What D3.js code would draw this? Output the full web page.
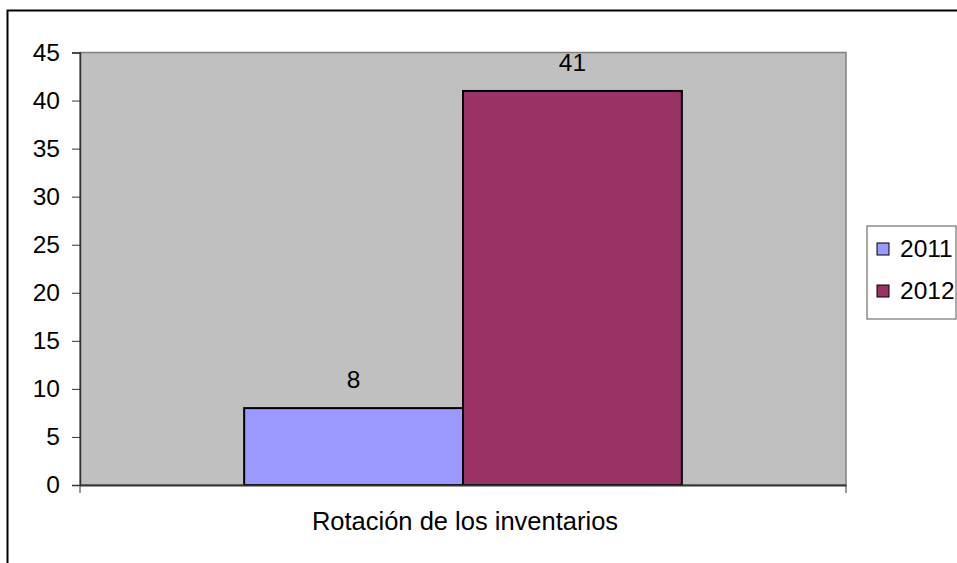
<!DOCTYPE html>
<html>
<head>
<meta charset="utf-8">
<script src="https://cdn.jsdelivr.net/npm/d3@7"></script>
<style>
  body { margin: 0; background: #fff; }
  svg { display: block; font-family: "Liberation Sans", Arial, sans-serif; }
</style>
</head>
<body>
<svg id="chart" width="957" height="563"></svg>
<script>
// data
const categories = ['Rotación de los inventarios'];
const seriesNames = ['2011', '2012'];
const seriesValues = [8, 41];
const seriesColors = ['#9999FF', '#993366'];
const yTicks = [0, 5, 10, 15, 20, 25, 30, 35, 40, 45];

const fontSize = 24.5;

const svg = d3.select('#chart');

// outer chart border (right/bottom run off the picture)
svg.append('rect')
    .attr('x', 7.5).attr('y', 10.5)
    .attr('width', 980).attr('height', 600)
    .attr('fill', 'none')
    .attr('stroke', '#000')
    .attr('stroke-width', 2);

const plot = { left: 80, top: 52.5, right: 846, bottom: 485 };

const y = d3.scaleLinear()
    .domain([0, 45])
    .range([plot.bottom, plot.top]);

const x = d3.scaleBand()
    .domain(categories)
    .range([plot.left, plot.right]);

// Excel gap width 150% -> bars take 2/3.5 of the category
const groupWidth = x.bandwidth() * 2 / 3.5;
const xs = d3.scaleBand()
    .domain(seriesNames)
    .range([0, groupWidth]);

// plot area
svg.append('rect')
    .attr('x', plot.left).attr('y', plot.top)
    .attr('width', plot.right - plot.left)
    .attr('height', plot.bottom - plot.top)
    .attr('fill', '#C0C0C0')
    .attr('stroke', '#808080')
    .attr('stroke-width', 1.5);

// bars
const g = svg.append('g')
    .attr('transform', `translate(${x(categories[0]) + (x.bandwidth() - groupWidth) / 2},0)`);

g.selectAll('rect')
    .data(seriesValues)
    .join('rect')
    .attr('x', (d, i) => xs(seriesNames[i]))
    .attr('y', (d) => y(d))
    .attr('width', xs.bandwidth())
    .attr('height', (d) => y(0) - y(d))
    .attr('fill', (d, i) => seriesColors[i])
    .attr('stroke', '#000')
    .attr('stroke-width', 2);

g.selectAll('text.val')
    .data(seriesValues)
    .join('text')
    .attr('class', 'val')
    .attr('x', (d, i) => xs(seriesNames[i]) + xs.bandwidth() / 2)
    .attr('y', (d) => y(d) - 20)
    .attr('text-anchor', 'middle')
    .attr('font-size', fontSize)
    .attr('fill', '#000')
    .text((d) => d);

// y axis
const yAxis = svg.append('g')
    .attr('transform', `translate(${plot.left},0)`)
    .call(d3.axisLeft(y).tickValues(yTicks).tickSize(8).tickPadding(12));
yAxis.select('.domain').attr('stroke', '#333').attr('stroke-width', 1.5);
yAxis.selectAll('.tick line').attr('stroke', '#333');
yAxis.selectAll('.tick text')
    .attr('font-size', fontSize)
    .attr('font-family', '"Liberation Sans", Arial, sans-serif')
    .attr('fill', '#000');

// x axis
const xAxis = svg.append('g')
    .attr('transform', `translate(0,${plot.bottom})`)
    .call(d3.axisBottom(x).tickSize(0).tickFormat(''));
xAxis.select('.domain').attr('stroke', '#333').attr('stroke-width', 2);
xAxis.selectAll('line.edge')
    .data([plot.left, plot.right])
    .join('line')
    .attr('class', 'edge')
    .attr('x1', (d) => d).attr('x2', (d) => d)
    .attr('y1', 0).attr('y2', 8)
    .attr('stroke', '#333');

svg.append('text')
    .attr('x', x(categories[0]) + x.bandwidth() / 2 + 2)
    .attr('y', 530)
    .attr('text-anchor', 'middle')
    .attr('font-size', 25.5)
    .attr('fill', '#000')
    .text(categories[0]);

// legend
const legend = svg.append('g').attr('transform', 'translate(867,226)');
legend.append('rect')
    .attr('width', 89).attr('height', 93)
    .attr('fill', '#fff')
    .attr('stroke', '#555')
    .attr('stroke-width', 1);

const items = legend.selectAll('g.item')
    .data(seriesNames)
    .join('g')
    .attr('class', 'item')
    .attr('transform', (d, i) => `translate(10,${17 + i * 42})`);

items.append('rect')
    .attr('width', 12).attr('height', 12)
    .attr('fill', (d, i) => seriesColors[i])
    .attr('stroke', '#000')
    .attr('stroke-width', 1);

items.append('text')
    .attr('x', 23).attr('y', 14)
    .attr('font-size', fontSize)
    .attr('fill', '#000')
    .text((d) => d);
</script>
</body>
</html>
